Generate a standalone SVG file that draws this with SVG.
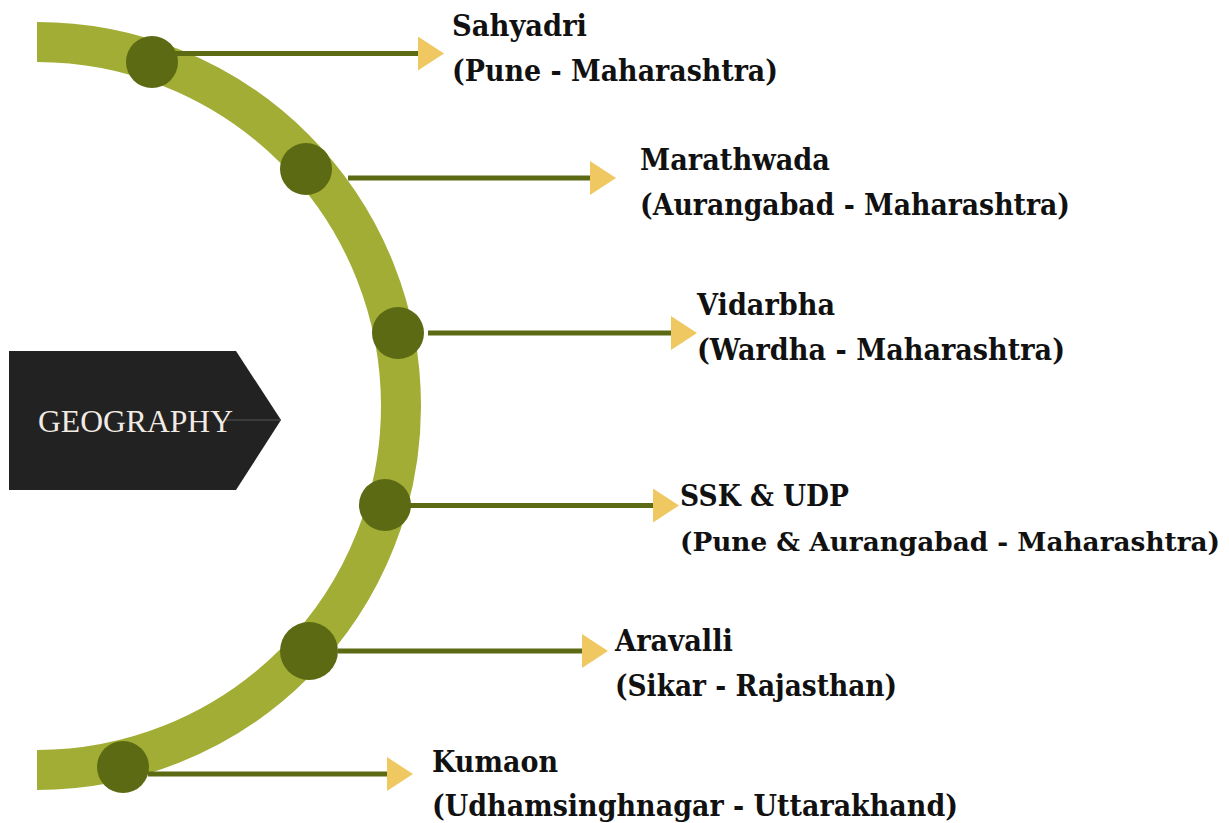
<svg xmlns="http://www.w3.org/2000/svg" width="1229" height="823" viewBox="0 0 1229 823">
<style>
.arc{fill:none;stroke:#a1ad34;stroke-width:40}
.dot{fill:#5c6a14}
.conn{stroke:#5c6a14;stroke-width:5;fill:none}
.lbl{font-family:"DejaVu Serif","Liberation Serif",serif;font-weight:bold;font-size:29px;fill:#111}
.geo{font-family:"Liberation Serif","DejaVu Serif",serif;font-size:31px;fill:#f1ebe3}
</style>
<defs>
<marker id="arr" markerUnits="userSpaceOnUse" markerWidth="26" markerHeight="34" viewBox="0 -17 26 34" refX="0" refY="0" orient="auto">
<path d="M0,-17 L26,0 L0,17 Z" fill="#f0c862"/>
</marker>
</defs>
<rect width="1229" height="823" fill="#fff"/>
<path class="arc" d="M37 42 A364 364 0 0 1 37 770"/>
<g id="geography">
<path d="M9 351 L236 351 L281 420 L236 490 L9 490 Z" fill="#222"/>
<line x1="226" y1="420" x2="281" y2="420" stroke="#555" stroke-width="1"/>
<text class="geo" x="38" y="432" textLength="195" lengthAdjust="spacingAndGlyphs">GEOGRAPHY</text>
</g>
<g id="connectors">
<line class="conn" x1="170" y1="53.5" x2="418" y2="53.5" marker-end="url(#arr)"/>
<line class="conn" x1="348" y1="178" x2="590" y2="178" marker-end="url(#arr)"/>
<line class="conn" x1="428" y1="333" x2="671" y2="333" marker-end="url(#arr)"/>
<line class="conn" x1="410" y1="505.5" x2="653" y2="505.5" marker-end="url(#arr)"/>
<line class="conn" x1="338" y1="651" x2="582" y2="651" marker-end="url(#arr)"/>
<line class="conn" x1="148" y1="774" x2="387" y2="774" marker-end="url(#arr)"/>
</g>
<g id="sahyadri">
<circle class="dot" cx="152" cy="62" r="26"/>
<text class="lbl" x="452" y="36" textLength="135" lengthAdjust="spacingAndGlyphs">Sahyadri</text>
<text class="lbl" x="452" y="81" textLength="326" lengthAdjust="spacingAndGlyphs">(Pune - Maharashtra)</text>
</g>
<g id="marathwada">
<circle class="dot" cx="306" cy="169" r="26"/>
<text class="lbl" x="640" y="170" textLength="190" lengthAdjust="spacingAndGlyphs">Marathwada</text>
<text class="lbl" x="640" y="215" textLength="430" lengthAdjust="spacingAndGlyphs">(Aurangabad - Maharashtra)</text>
</g>
<g id="vidarbha">
<circle class="dot" cx="398" cy="333" r="26"/>
<text class="lbl" x="697" y="315" textLength="138" lengthAdjust="spacingAndGlyphs">Vidarbha</text>
<text class="lbl" x="697" y="360" textLength="368" lengthAdjust="spacingAndGlyphs">(Wardha - Maharashtra)</text>
</g>
<g id="ssk-udp">
<circle class="dot" cx="385" cy="505" r="26"/>
<text class="lbl" x="680" y="506" textLength="169" lengthAdjust="spacingAndGlyphs">SSK &amp; UDP</text>
<text class="lbl" x="680" y="551" style="font-size:26px" textLength="540" lengthAdjust="spacingAndGlyphs">(Pune &amp; Aurangabad - Maharashtra)</text>
</g>
<g id="aravalli">
<circle class="dot" cx="309" cy="651" r="29"/>
<text class="lbl" x="615" y="651" textLength="118" lengthAdjust="spacingAndGlyphs">Aravalli</text>
<text class="lbl" x="615" y="696" textLength="282" lengthAdjust="spacingAndGlyphs">(Sikar - Rajasthan)</text>
</g>
<g id="kumaon">
<circle class="dot" cx="123" cy="767" r="26"/>
<text class="lbl" x="432" y="772" textLength="126" lengthAdjust="spacingAndGlyphs">Kumaon</text>
<text class="lbl" x="432" y="816" textLength="526" lengthAdjust="spacingAndGlyphs">(Udhamsinghnagar - Uttarakhand)</text>
</g>
</svg>
